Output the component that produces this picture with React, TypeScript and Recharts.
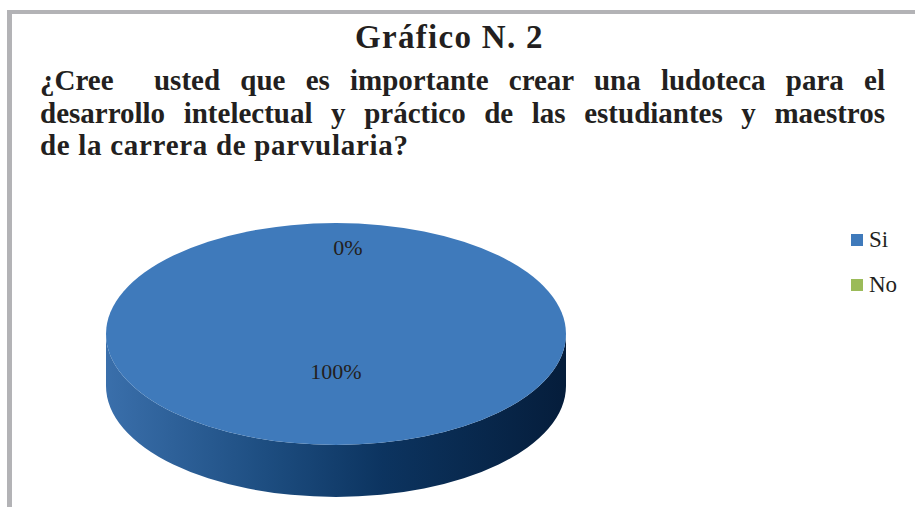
import { PieChart, Pie, Cell, Legend } from "recharts";

const categories = ["Si", "No"];
const values = [100, 0];
const colors = ["#3f7abb", "#9bbb59"];
const title = "Gráfico N. 2";
const questionLines = [
  "¿Cree\u00a0 usted que es importante crear una ludoteca para el",
  "desarrollo intelectual y práctico de las estudiantes y maestros",
  "de la carrera de parvularia?",
];

const data = categories.map((name, i) => ({ name, value: values[i] }));

const K = 0.4826; // vertical squash of the pie
const DEPTH = 52;
const SERIF = '"Liberation Serif", "Times New Roman", serif';

function ellPt(cx: number, cy: number, r: number, deg: number) {
  const a = (deg * Math.PI) / 180;
  return [cx + r * Math.cos(a), cy - K * r * Math.sin(a)];
}

function Slice3D(props: any) {
  const { cx, cy, outerRadius: r, startAngle, endAngle, fill } = props;
  const span = Math.abs(endAngle - startAngle);
  if (span < 0.01) return <g />;
  const ry = r * K;
  if (span >= 359.99) {
    const side = `M${cx - r},${cy} A${r},${ry} 0 0 0 ${cx + r},${cy} L${cx + r},${cy + DEPTH} A${r},${ry} 0 0 1 ${cx - r},${cy + DEPTH} Z`;
    return (
      <g>
        <path d={side} fill="url(#sideGrad)" />
        <ellipse cx={cx} cy={cy} rx={r} ry={ry} fill={fill} />
      </g>
    );
  }
  const [x1, y1] = ellPt(cx, cy, r, startAngle);
  const [x2, y2] = ellPt(cx, cy, r, endAngle);
  const large = span > 180 ? 1 : 0;
  const sweep = endAngle < startAngle ? 1 : 0;
  return <path d={`M${cx},${cy} L${x1},${y1} A${r},${ry} 0 ${large} ${sweep} ${x2},${y2} Z`} fill={fill} />;
}

function PctLabel(props: any) {
  const { cx, cy, midAngle, outerRadius, percent } = props;
  const f = percent === 0 ? 0.78 : 0.34;
  const [x, y] = ellPt(cx, cy, outerRadius * f, midAngle);
  return (
    <text x={x + (percent === 0 ? 12 : 0)} y={y} textAnchor="middle" dominantBaseline="central" fill="#231f20" fontSize={22} fontFamily={SERIF}>
      {`${Math.round(percent * 100)}%`}
    </text>
  );
}

function LegendBox({ payload }: any) {
  const items = [...(payload || [])].sort(
    (a: any, b: any) => categories.indexOf(a.value) - categories.indexOf(b.value)
  );
  return (
    <div>
      {items.map((p: any) => (
        <div key={p.value} style={{ display: "flex", alignItems: "center", height: 45, fontFamily: SERIF, fontSize: 23, color: "#231f20" }}>
          <span style={{ width: 12, height: 12, background: p.color, marginRight: 6 }} />
          {p.value}
        </div>
      ))}
    </div>
  );
}

export default function App() {
  return (
    <div style={{ position: "absolute", left: 0, top: 0, width: 915, height: 507, background: "#fff", overflow: "hidden", fontFamily: SERIF }}>
      <div style={{ position: "absolute", left: 7, top: 10, width: 908, height: 4, background: "#b3b3b6" }} />
      <div style={{ position: "absolute", left: 7, top: 10, width: 5, height: 497, background: "#b3b3b6" }} />
      <div style={{ position: "absolute", left: 0, top: 21, width: 899, textAlign: "center", fontSize: 33, lineHeight: "33px", fontWeight: 700, letterSpacing: 1.3, color: "#231f20" }}>
        {title}
      </div>
      <div style={{ position: "absolute", left: 40, top: 64, width: 845, fontSize: 29, lineHeight: "32.5px", fontWeight: 700, color: "#231f20" }}>
        {questionLines.map((line, i) => (
          <div key={i} style={{ textAlign: "justify", textAlignLast: i < questionLines.length - 1 ? "justify" : "left", letterSpacing: i === questionLines.length - 1 ? 0.7 : 0 }}>
            {line}
          </div>
        ))}
      </div>
      <div style={{ position: "absolute", left: 0, top: 0 }}>
        <PieChart width={915} height={507} margin={{ top: 0, right: 0, bottom: 0, left: 0 }}>
          <defs>
            <linearGradient id="sideGrad" x1="0" y1="0" x2="1" y2="0">
              <stop offset="0%" stopColor="#3a6fab" />
              <stop offset="35%" stopColor="#1d4d80" />
              <stop offset="60%" stopColor="#0c3460" />
              <stop offset="100%" stopColor="#051d3b" />
            </linearGradient>
          </defs>
          <Pie
            data={data}
            dataKey="value"
            nameKey="name"
            cx={336}
            cy={334}
            outerRadius={230}
            startAngle={90}
            endAngle={-270}
            stroke="none"
            shape={Slice3D}
            label={PctLabel}
            labelLine={false}
            isAnimationActive={false}
          >
            {data.map((d, i) => (
              <Cell key={d.name} fill={colors[i]} />
            ))}
          </Pie>
          <Legend content={LegendBox} layout="vertical" wrapperStyle={{ position: "absolute", left: 851, top: 217, width: 60 }} />
        </PieChart>
      </div>
    </div>
  );
}
